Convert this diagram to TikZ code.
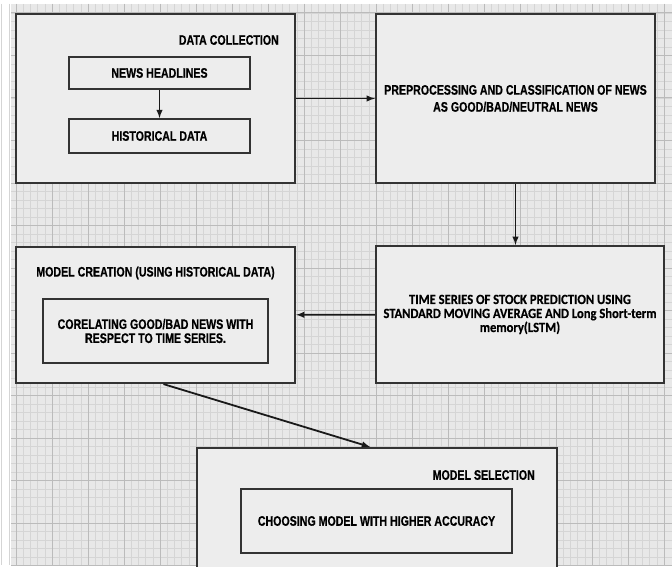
\documentclass[tikz,border=0pt]{standalone}
\usepackage{fontspec}
\setmainfont[FakeStretch=0.77, BoldFeatures={FakeBold=0.6}]{Liberation Sans}
\newfontfamily\calfont[FakeStretch=0.9, BoldFeatures={FakeBold=0.6}]{Carlito}
\usetikzlibrary{positioning}

\definecolor{paper}{HTML}{E8E8E8}
\definecolor{minorgrid}{HTML}{D5D5D5}
\definecolor{majorgrid}{HTML}{BBBBBB}
\definecolor{boxfill}{HTML}{EDEDED}
\definecolor{boxline}{HTML}{333333}

\tikzset{
  outerbox/.style={draw=boxline, line width=2.2pt, fill=boxfill, inner sep=0pt},
  innerbox/.style={draw=boxline, line width=1.8pt, fill=boxfill, inner sep=0pt, align=center,
    font=\fontsize{13.8}{14}\selectfont\bfseries},
  boxtitle/.style={inner sep=0pt, font=\fontsize{13.8}{14}\selectfont\bfseries},
  flow/.style={->, >=latex, line width=1.8pt, draw=black!90}
}

\begin{document}
\begin{tikzpicture}[x=1pt, y=-1pt]
    \useasboundingbox (0,0) rectangle (672,567);
    \clip (0,0) rectangle (672,567);

    % Grid paper in the background
    \fill[white] (0,0) rectangle (672,567);
    \fill[paper] (11,4) rectangle (672,565);
    \foreach \i in {0,...,92} {
        \draw[minorgrid, line width=0.6pt] ({16+7.2*(\i-2)},4) -- ({16+7.2*(\i-2)},565);
    }
    \foreach \j in {0,...,66} {
        \draw[minorgrid, line width=0.6pt] (11,{13+8.5*\j}) -- (672,{13+8.5*\j});
    }
    \foreach \i in {0,...,18} {
        \draw[majorgrid, line width=1pt] ({16+36*\i},4) -- ({16+36*\i},565);
    }
    \foreach \j in {0,...,13} {
        \draw[majorgrid, line width=1pt] (11,{13+42.5*\j}) -- (672,{13+42.5*\j});
    }

    % Data collection
    \node[outerbox, minimum width=279pt, minimum height=169pt] (collect) at (155.5,98.5) {};
    \node[boxtitle, anchor=east] (collecttitle) at (279,40) {DATA COLLECTION};
    \node[innerbox, minimum width=181pt, minimum height=32pt] (news) at (159.5,73) {NEWS HEADLINES};
    \node[innerbox, minimum width=181pt, minimum height=34pt] (hist) at (159.5,136) {HISTORICAL DATA};

    % Preprocessing
    \node[outerbox, minimum width=279pt, minimum height=169pt, align=center,
          font=\fontsize{13.8}{17}\selectfont\bfseries] (prep) at (515.5,98.5)
        {PREPROCESSING AND CLASSIFICATION OF NEWS\\AS GOOD/BAD/NEUTRAL NEWS};

    % Time series prediction
    \node[outerbox, minimum width=288pt, minimum height=137pt, align=center,
          font=\calfont\fontsize{14}{14}\selectfont\bfseries] (series) at (520,314.5)
        {TIME SERIES OF STOCK PREDICTION USING\\STANDARD MOVING AVERAGE AND Long Short-term\\memory(LSTM)};

    % Model creation
    \node[outerbox, minimum width=279pt, minimum height=136pt] (create) at (155.5,315) {};
    \node[boxtitle] (createtitle) at (155.5,273) {MODEL CREATION (USING HISTORICAL DATA)};
    \node[innerbox, minimum width=225pt, minimum height=64pt] (corel) at (155.5,331)
        {CORELATING GOOD/BAD NEWS WITH\\RESPECT TO TIME SERIES.};

    % Model selection
    \node[outerbox, minimum width=360pt, minimum height=142pt] (select) at (377,519) {};
    \node[boxtitle, anchor=east] (selecttitle) at (535,475) {MODEL SELECTION};
    \node[innerbox, minimum width=271pt, minimum height=64pt] (choose) at (376.5,521)
        {CHOOSING MODEL WITH HIGHER ACCURACY};

    % Connectors
    \draw[flow] (news) -- (hist);
    \draw[flow] (collect) -- (prep);
    \draw[flow] (prep.south) -- (prep.south |- series.north);
    \draw[flow] (series) -- (create);
    \draw[flow] ([xshift=8pt]create.south) -- ([xshift=-7pt]select.north);

\end{tikzpicture}
\end{document}
